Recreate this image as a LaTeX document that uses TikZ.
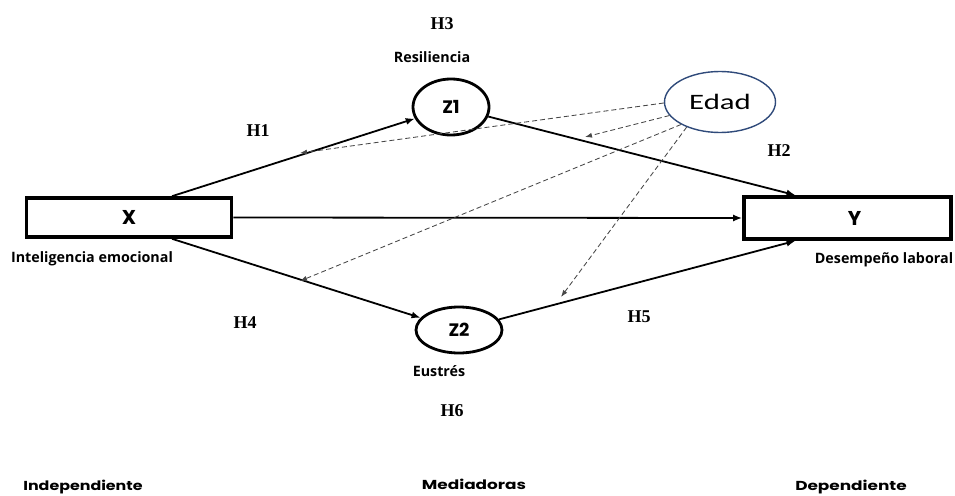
\documentclass[tikz,border=0pt]{standalone}
\usepackage{fontspec}
\usepackage{graphicx}
\setmainfont{Liberation Serif}
\newfontfamily\popfont{Poppins}
\newfontfamily\opsfont{Open Sans}
\newfontfamily\carfont{Carlito}
\usetikzlibrary{arrows.meta,shapes.geometric}
\definecolor{edadblue}{HTML}{2F4A7A}
\begin{document}
\begin{tikzpicture}[x=1pt,y=-1pt,
  varbox/.style={draw,line width=3.6pt,minimum width=205pt,minimum height=39pt,inner sep=0pt,font=\popfont\bfseries\fontsize{20}{22}\selectfont},
  latent/.style={draw,ellipse,line width=2.8pt,inner sep=0pt,font=\popfont\bfseries\fontsize{18}{20}\selectfont},
  hyp/.style={font=\bfseries\fontsize{18}{20}\selectfont},
  lab/.style={font=\opsfont\bfseries\fontsize{14.3}{16}\selectfont},
  cat/.style={font=\popfont\bfseries\fontsize{13}{15}\selectfont},
  arr/.style={line width=1.8pt,-{Latex[length=9pt,width=7pt]}},
  darr/.style={draw=black!72,line width=0.85pt,dash pattern=on 5pt off 3pt,-{Latex[length=7pt,width=5pt]}}
]
\useasboundingbox (0,0) rectangle (955,495);
\node[varbox] (X) at (129,217.5) {X};
\node[varbox,minimum width=207pt,minimum height=42pt] (Y) at (847.5,218) {\hspace*{14pt}Y};
\node[latent,minimum width=76pt,minimum height=56pt] (Z1) at (451,107) {Z1};
\node[latent,minimum width=86pt,minimum height=46pt] (Z2) at (459,330) {Z2};
\node[draw=edadblue,ellipse,line width=1.4pt,minimum width=111pt,minimum height=61pt,font=\carfont\fontsize{22}{24}\selectfont] (E) at (720,102) {\scalebox{1.4}[1]{Edad}};

\node[hyp] (h3) at (442,24) {H3};
\node[hyp] (h1) at (258,131) {H1};
\node[hyp] (h2) at (779,151) {H2};
\node[hyp] (h4) at (245,323) {H4};
\node[hyp] (h5) at (639,317) {H5};
\node[hyp] (h6) at (452,411) {H6};

\node[lab] (lr) at (432,57) {Resiliencia};
\node[lab] (le) at (439,371) {Eustrés};
\node[lab] (lx) at (92,259) {Inteligencia emocional};
\node[lab] (ly) at (884,260) {Desempeño laboral};

\node[cat] (c1) at (83,487) {\scalebox{1.22}[1]{Independiente}};
\node[cat] (c2) at (474,484) {\scalebox{1.3}[1]{Mediadoras}};
\node[cat] (c3) at (851,487) {\scalebox{1.3}[1]{Dependiente}};

\draw[arr] ([xshift=43pt]X.north) -- (Z1);
\draw[arr] (Z1) -- ([xshift=-52pt]Y.north);
\draw[arr] (X.east) -- (Y.west);
\draw[arr] ([xshift=43pt]X.south) -- (Z2);
\draw[arr] (Z2) -- ([xshift=-52pt]Y.south);

\coordinate (d1) at (300,153);
\coordinate (d2) at (585,137);
\coordinate (d3) at (300,281);
\coordinate (d4) at (561,297);
\draw[darr] (E.181) -- (d1);
\draw[darr] (E.195) -- (d2);
\draw[darr] (E.210) -- (d3);
\draw[darr] (E.217) -- (d4);
\end{tikzpicture}
\end{document}
